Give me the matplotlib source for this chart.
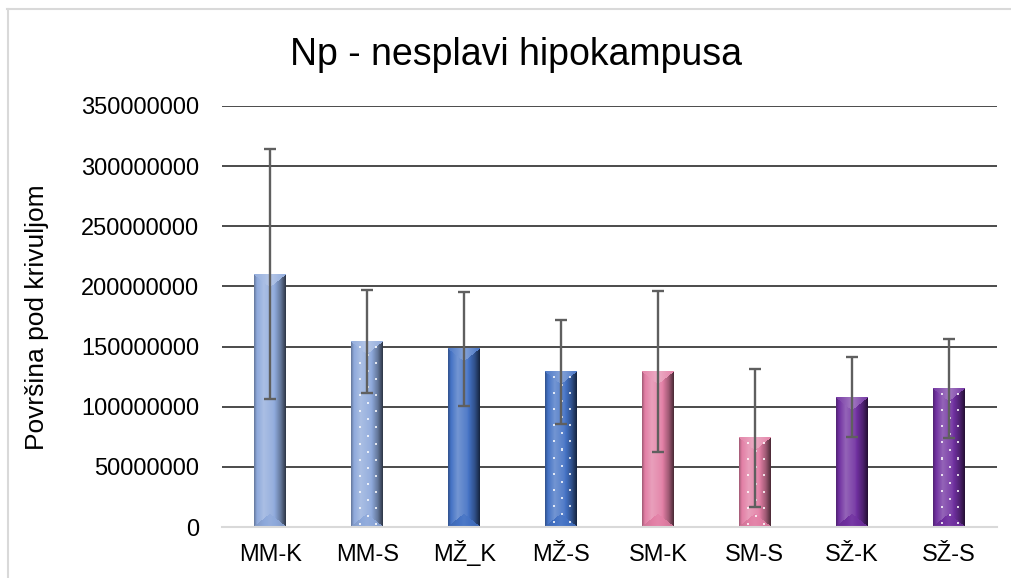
import numpy as np
import matplotlib
matplotlib.use("Agg")
import matplotlib.pyplot as plt
from matplotlib.colors import to_rgb
from matplotlib.lines import Line2D
from matplotlib.ticker import FuncFormatter

# ---- data ----
categories = ["MM-K", "MM-S", "MŽ_K", "MŽ-S", "SM-K", "SM-S", "SŽ-K", "SŽ-S"]
means = [210e6, 154e6, 148e6, 129e6, 129e6, 74e6, 108e6, 115e6]
errors = [104e6, 43e6, 47e6, 43e6, 67e6, 57e6, 33e6, 41e6]
dotted = [False, True, False, True, False, True, False, True]
colors = ["#8EA9DB", "#8EA9DB", "#4472C4", "#4472C4",
          "#E27FA5", "#E27FA5", "#7030A0", "#7030A0"]
yticks = [0, 50e6, 100e6, 150e6, 200e6, 250e6, 300e6, 350e6]

title = "Np - nesplavi hipokampusa"
ylabel = "Površina pod krivuljom"

plt.rcParams["font.family"] = ["Liberation Sans", "DejaVu Sans"]

# ---- figure geometry (pixels) ----
W, H = 1011, 578
AX_L, AX_R, AX_T, AX_B = 222, 997, 106, 527
fig = plt.figure(figsize=(W / 100, H / 100), dpi=100)
ax = fig.add_axes([AX_L / W, 1 - AX_B / H, (AX_R - AX_L) / W, (AX_B - AX_T) / H])

ymax = yticks[-1]
n = len(categories)
bar_w = 0.33
px_per_cat = (AX_R - AX_L) / n
px_per_unit_y = (AX_B - AX_T) / ymax


def shade(base, f):
    """Blend towards white for f>0, towards black for f<0."""
    f = f[..., None]
    return np.where(f >= 0, base + (1 - base) * f, base * (1 + f))


def bar_image(color, w_px, h_px, dots):
    base = np.array(to_rgb(color))
    xs = np.linspace(0, 1, w_px)
    prof = np.interp(xs, [0, 0.08, 0.3, 0.6, 0.85, 1.0],
                     [-0.25, 0.0, 0.25, 0.08, -0.3, -0.65])
    f = np.tile(prof, (h_px, 1))
    rows = np.arange(h_px)[:, None]
    cols = np.arange(w_px)[None, :]
    half = (w_px - 1) / 2
    bev = min(13, h_px / 2)
    tri = bev * (1 - np.abs(cols - half) / (half + 0.5))
    top = rows < tri
    bottom = (h_px - 1 - rows) < tri
    f = np.where(top, 0.35 - 0.3 * np.abs(cols - half) / half, f)
    f = np.where(bottom, 0.05 - 0.15 * np.abs(cols - half) / half, f)
    img = np.clip(shade(base, f), 0, 1)
    if dots:
        c1 = [int(w_px * 0.27), int(w_px * 0.75)]
        c2 = [int(w_px * 0.51)]
        for k, r in enumerate(range(5, h_px - 3, 8)):
            for c in (c1 if k % 2 == 0 else c2):
                img[r:r + 2, c:c + 2] = img[r:r + 2, c:c + 2] * 0.2 + 0.8
    return img


x = np.arange(n)
for xi, v, c, d in zip(x, means, colors, dotted):
    w_px = int(round(bar_w * px_per_cat))
    h_px = max(2, int(round(v * px_per_unit_y)))
    img = bar_image(c, w_px, h_px, d)
    ax.imshow(img, extent=[xi - bar_w / 2, xi + bar_w / 2, 0, v],
              origin="upper", aspect="auto", interpolation="nearest", zorder=3)

ax.errorbar(x, means, yerr=errors, fmt="none", ecolor="#5f5f5f",
            elinewidth=1.7, capsize=4, capthick=1.7, zorder=4)

ax.set_xlim(-0.5, n - 0.5)
ax.set_ylim(0, ymax)
ax.set_yticks(yticks)
ax.yaxis.set_major_formatter(FuncFormatter(lambda v, p: f"{v:.0f}"))
ax.set_xticks(x)
ax.set_xticklabels(categories)
ax.tick_params(axis="both", length=0, labelsize=17, colors="black")
ax.tick_params(axis="y", pad=16.5)
ax.tick_params(axis="x", pad=24.5)
for lab in ax.get_xticklabels():
    lab.set_verticalalignment("baseline")
ax.yaxis.grid(True, color="#1a1a1a", linewidth=1.1, zorder=0)
ax.set_axisbelow(True)
for s in ("top", "right", "left"):
    ax.spines[s].set_visible(False)
ax.spines["bottom"].set_color("#d9d9d9")
ax.spines["bottom"].set_linewidth(1.5)
ax.spines["bottom"].set_zorder(5)

fig.text(516 / W, 1 - 55 / H, title, ha="center", va="center", fontsize=27)
fig.text(37 / W, 1 - 317 / H, ylabel, ha="center", va="center",
         rotation=90, fontsize=19)

# chart-area frame
fig.add_artist(Line2D([7.5 / W, 7.5 / W], [1 - 9 / H, 0], color="#d9d9d9",
                      linewidth=1.5, transform=fig.transFigure))
fig.add_artist(Line2D([7 / W, 1], [1 - 9 / H, 1 - 9 / H], color="#d9d9d9",
                      linewidth=1.5, transform=fig.transFigure))

fig.savefig("out.png", dpi=100)
